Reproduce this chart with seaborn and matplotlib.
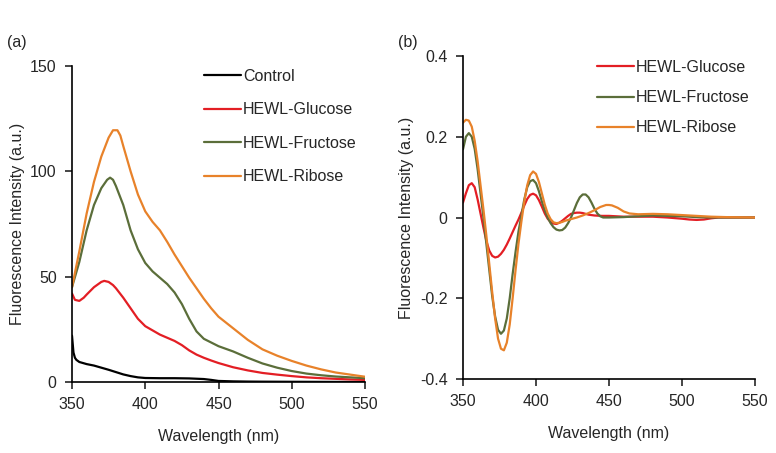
import matplotlib
matplotlib.use('Agg')
import matplotlib.pyplot as plt
import seaborn as sns

# Panel (a): emission spectra
wl_control = [350, 351, 352, 353, 355, 360, 365, 370, 375, 380, 385, 390, 395, 400,
              410, 420, 430, 440, 445, 450, 460, 470, 480, 500, 550]
control = [22, 14, 11.5, 10.5, 9.5, 8.5, 7.8, 6.8, 5.8, 4.7, 3.6, 2.8, 2.2, 1.9,
           1.8, 1.8, 1.7, 1.4, 1.0, 0.5, 0.3, 0.2, 0.15, 0.1, 0.0]

wl_glucose = [350, 352, 355, 358, 360, 365, 370, 372, 375, 378, 380, 385, 390, 395,
              400, 405, 410, 415, 420, 425, 430, 435, 440, 445, 450, 460, 470, 480,
              490, 500, 510, 520, 530, 540, 550]
glucose = [42, 39, 38.5, 40, 41.5, 45, 47.5, 48, 47.5, 46, 44.5, 40, 35, 30,
           26.5, 24.5, 22.5, 21, 19.5, 17.5, 15, 13, 11.5, 10.2, 9, 7, 5.5, 4.3,
           3.5, 2.8, 2.2, 1.8, 1.5, 1.2, 1.0]

wl_fructose = [350, 355, 360, 365, 370, 374, 376, 378, 380, 385, 390, 395, 400, 405,
               410, 415, 420, 425, 430, 435, 440, 450, 460, 470, 480, 490, 500, 510,
               520, 530, 540, 550]
fructose = [45, 57, 72, 84, 92, 96, 97, 96, 93, 84, 72, 63, 56.5, 52.5,
            49.5, 46.5, 42.5, 37, 30, 24, 20.5, 17, 14.5, 11.5, 8.8, 6.8, 5.2, 4,
            3.2, 2.6, 2.2, 1.8]

wl_ribose = [350, 355, 360, 365, 370, 375, 378, 381, 383, 385, 390, 395, 400, 405,
             410, 415, 420, 425, 430, 435, 440, 445, 450, 460, 470, 480, 490, 500,
             510, 520, 530, 540, 550]
ribose = [45, 62, 80, 95, 107, 116, 119.5, 119.5, 117, 112, 100, 89, 81, 76,
          72, 66.5, 60.5, 55, 49.5, 44.5, 39.5, 35, 31, 25.5, 20, 15.5, 12.5, 10,
          7.8, 6, 4.5, 3.5, 2.5]

# Panel (b): derivative spectra
wl_d_glucose = [350, 352, 354, 356, 358, 360, 362, 364, 366, 368, 370, 372, 374, 376,
                378, 380, 382, 384, 386, 388, 390, 392, 394, 396, 398, 400, 402, 404,
                406, 408, 410, 412, 414, 416, 418, 420, 422, 424, 426, 428, 430, 432,
                434, 436, 440, 445, 450, 455, 460, 470, 480, 490, 500, 505, 510, 515,
                520, 525, 550]
d_glucose = [0.037, 0.060, 0.080, 0.085, 0.075, 0.045, 0.010, -0.025, -0.058, -0.082,
             -0.095, -0.099, -0.097, -0.090, -0.080, -0.067, -0.052, -0.036, -0.020,
             -0.005, 0.012, 0.030, 0.046, 0.056, 0.059, 0.055, 0.043, 0.027, 0.010,
             -0.003, -0.011, -0.015, -0.016, -0.013, -0.008, -0.002, 0.004, 0.009,
             0.011, 0.012, 0.012, 0.011, 0.009, 0.007, 0.005, 0.004, 0.004, 0.003,
             0.002, 0.002, 0.002, 0.000, -0.003, -0.005, -0.006, -0.005, -0.002,
             0.000, 0.000]

wl_d_fructose = [350, 352, 354, 356, 358, 360, 362, 364, 366, 368, 370, 372, 374, 376,
                 378, 380, 382, 384, 386, 388, 390, 392, 394, 396, 398, 400, 402, 404,
                 406, 408, 410, 412, 414, 416, 418, 420, 422, 424, 426, 428, 430, 432,
                 434, 436, 438, 440, 442, 444, 446, 450, 460, 470, 480, 490, 500, 510,
                 520, 550]
d_fructose = [0.169, 0.200, 0.209, 0.200, 0.170, 0.120, 0.060, 0.000, -0.065, -0.130,
              -0.195, -0.245, -0.278, -0.288, -0.280, -0.250, -0.200, -0.140, -0.085,
              -0.035, 0.005, 0.045, 0.075, 0.090, 0.093, 0.085, 0.065, 0.040, 0.018,
              0.000, -0.014, -0.024, -0.030, -0.032, -0.031, -0.025, -0.014, 0.000,
              0.018, 0.036, 0.050, 0.057, 0.057, 0.050, 0.037, 0.022, 0.010, 0.003,
              0.000, 0.000, 0.001, 0.003, 0.005, 0.004, 0.003, 0.001, 0.000, 0.000]

wl_d_ribose = [350, 352, 354, 356, 358, 360, 362, 364, 366, 368, 370, 372, 374, 376,
               378, 380, 382, 384, 386, 388, 390, 392, 394, 396, 398, 400, 402, 404,
               406, 408, 410, 412, 414, 416, 418, 420, 424, 428, 432, 436, 440, 444,
               448, 450, 452, 456, 460, 464, 470, 480, 490, 500, 510, 520, 530, 550]
d_ribose = [0.235, 0.242, 0.240, 0.225, 0.190, 0.140, 0.080, 0.020, -0.045, -0.115,
            -0.185, -0.250, -0.300, -0.325, -0.329, -0.310, -0.265, -0.200, -0.130,
            -0.065, -0.010, 0.040, 0.080, 0.105, 0.114, 0.108, 0.088, 0.060, 0.032,
            0.010, -0.004, -0.012, -0.014, -0.013, -0.011, -0.008, -0.004, 0.000,
            0.005, 0.011, 0.018, 0.026, 0.031, 0.031, 0.030, 0.024, 0.015, 0.010,
            0.008, 0.009, 0.008, 0.006, 0.004, 0.002, 0.001, 0.000]

xticks = [350, 400, 450, 500, 550]
colors = {'Control': '#000000', 'HEWL-Glucose': '#e31e24',
          'HEWL-Fructose': '#5b6e3a', 'HEWL-Ribose': '#e8822a'}

sns.set_style('ticks')
plt.rcParams['font.family'] = ['Liberation Sans', 'DejaVu Sans']
plt.rcParams['font.size'] = 11.5

fig = plt.figure(figsize=(7.76, 4.53), dpi=100)
ax1 = fig.add_axes([72/776, 1-382/453, 293/776, 316/453])
ax2 = fig.add_axes([463/776, 1-379/453, 292/776, 323/453])

for name, x, y in [('Control', wl_control, control),
                   ('HEWL-Glucose', wl_glucose, glucose),
                   ('HEWL-Fructose', wl_fructose, fructose),
                   ('HEWL-Ribose', wl_ribose, ribose)]:
    sns.lineplot(x=x, y=y, ax=ax1, color=colors[name], label=name, linewidth=1.6)

for name, x, y in [('HEWL-Glucose', wl_d_glucose, d_glucose),
                   ('HEWL-Fructose', wl_d_fructose, d_fructose),
                   ('HEWL-Ribose', wl_d_ribose, d_ribose)]:
    sns.lineplot(x=x, y=y, ax=ax2, color=colors[name], label=name, linewidth=1.6)

ax1.set(xlim=(350, 550), ylim=(0, 150), xticks=xticks, yticks=[0, 50, 100, 150])
ax2.set(xlim=(350, 550), ylim=(-0.4, 0.4), xticks=xticks,
        yticks=[-0.4, -0.2, 0, 0.2, 0.4])
ax2.set_yticklabels(['-0.4', '-0.2', '0', '0.2', '0.4'])

for ax in (ax1, ax2):
    sns.despine(ax=ax)
    ax.set_xlabel('Wavelength (nm)', labelpad=12)
    ax.set_ylabel('Fluorescence Intensity (a.u.)', labelpad=4)
    ax.tick_params(direction='out', length=5, width=1.2, pad=6, labelsize=11.5)
    for s in ('left', 'bottom'):
        ax.spines[s].set_linewidth(1.2)
        ax.spines[s].set_color('black')

ax1.legend(loc='upper left', bbox_to_anchor=(204/776, 1-69/453),
           bbox_transform=fig.transFigure, frameon=False, handlelength=2.3,
           handletextpad=0.15, labelspacing=1.15, borderpad=0, borderaxespad=0)
ax2.legend(loc='upper left', bbox_to_anchor=(597/776, 1-60/453),
           bbox_transform=fig.transFigure, frameon=False, handlelength=2.3,
           handletextpad=0.15, labelspacing=0.95, borderpad=0, borderaxespad=0)

fig.text(7/776, 1-43/453, '(a)', fontsize=11.5, va='center', ha='left')
fig.text(398/776, 1-43/453, '(b)', fontsize=11.5, va='center', ha='left')

fig.savefig('out.png', dpi=100)
